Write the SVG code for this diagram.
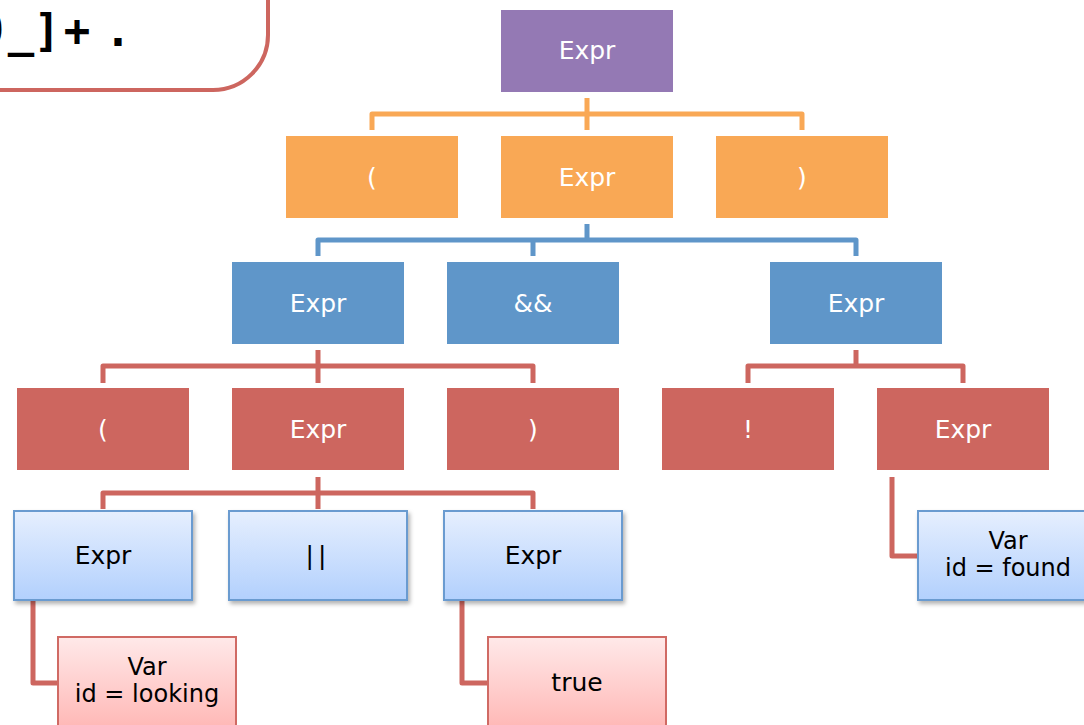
<svg xmlns="http://www.w3.org/2000/svg" width="1084" height="725" viewBox="0 0 1084 725">
<defs>
<linearGradient id="gb" x1="0" y1="0" x2="0" y2="1"><stop offset="0" stop-color="#e6effe"/><stop offset="1" stop-color="#b2d0fd"/></linearGradient>
<linearGradient id="gp" x1="0" y1="0" x2="0" y2="1"><stop offset="0" stop-color="#ffe9e9"/><stop offset="1" stop-color="#ffb3b1"/></linearGradient>
<filter id="sh" x="-10%" y="-10%" width="130%" height="130%"><feDropShadow dx="2" dy="3" stdDeviation="2" flood-color="#000" flood-opacity="0.3"/></filter>
</defs>
<style>
text{font-family:"DejaVu Sans",Verdana,sans-serif;font-size:25px;text-anchor:middle}
.w{fill:#fff}.k{fill:#000}
.pu{fill:#9479b4}.or{fill:#f9a855}.bl{fill:#5f96c9}.rd{fill:#cd665f}
.lb{fill:url(#gb);stroke:#6a9bd0;stroke-width:2;filter:url(#sh)}
.pk{fill:url(#gp);stroke:#d06a64;stroke-width:2}
.c{fill:none;stroke-width:5;stroke-linejoin:round}
.co{stroke:#f9a855}.cb{stroke:#5f96c9}.cr{stroke:#cd665f}
.mono{font-family:"DejaVu Sans Mono","Liberation Mono",monospace;font-weight:bold;font-size:44px}
.two{font-size:24px}
</style>
<rect x="-100" y="-100" width="368" height="190" rx="55" fill="#fff" stroke="#cd665f" stroke-width="4"/>
<text class="mono k" x="-9 21 47 77 118" y="46">9_]+.</text>
<g id="connectors">
<path class="c co" d="M372,130V114H802V130M587,98V130"/>
<path class="c cb" d="M318,256V240H856V256M533,240V256M587,224V240"/>
<path class="c cr" d="M103,383V366H533V383M318,350V383"/>
<path class="c cr" d="M748,383V366H963V383M856,350V366"/>
<path class="c cr" d="M103,509V493H533V509M318,477V509"/>
<path class="c cr" d="M892,477V556H918"/>
<path class="c cr" d="M33,600V683H58"/>
<path class="c cr" d="M462,600V683H488"/>
</g>
<g id="n1"><rect class="pu" x="501" y="10" width="172" height="82"/><text class="w" x="587" y="59">Expr</text></g>
<g id="n2"><rect class="or" x="286" y="136" width="172" height="82"/><text class="w" x="372" y="186">(</text></g>
<g id="n3"><rect class="or" x="501" y="136" width="172" height="82"/><text class="w" x="587" y="186">Expr</text></g>
<g id="n4"><rect class="or" x="716" y="136" width="172" height="82"/><text class="w" x="802" y="186">)</text></g>
<g id="n5"><rect class="bl" x="232" y="262" width="172" height="82"/><text class="w" x="318" y="312">Expr</text></g>
<g id="n6"><rect class="bl" x="447" y="262" width="172" height="82"/><text class="w" x="533" y="312">&amp;&amp;</text></g>
<g id="n7"><rect class="bl" x="770" y="262" width="172" height="82"/><text class="w" x="856" y="312">Expr</text></g>
<g id="n8"><rect class="rd" x="17" y="388" width="172" height="82"/><text class="w" x="103" y="438">(</text></g>
<g id="n9"><rect class="rd" x="232" y="388" width="172" height="82"/><text class="w" x="318" y="438">Expr</text></g>
<g id="n10"><rect class="rd" x="447" y="388" width="172" height="82"/><text class="w" x="533" y="438">)</text></g>
<g id="n11"><rect class="rd" x="662" y="388" width="172" height="82"/><text class="w" x="748" y="438">!</text></g>
<g id="n12"><rect class="rd" x="877" y="388" width="172" height="82"/><text class="w" x="963" y="438">Expr</text></g>
<g id="n13"><rect class="lb" x="14" y="511" width="178" height="89"/><text class="k" x="103" y="564">Expr</text></g>
<g id="n14"><rect class="lb" x="229" y="511" width="178" height="89"/><text class="k" x="318" y="564" letter-spacing="4">||</text></g>
<g id="n15"><rect class="lb" x="444" y="511" width="178" height="89"/><text class="k" x="533" y="564">Expr</text></g>
<g id="n16"><rect class="lb" x="918" y="511" width="178" height="89"/><text class="k two" x="1008" y="549">Var</text><text class="k two" x="1008" y="576">id = found</text></g>
<g id="n17"><rect class="pk" x="58" y="637" width="178" height="100"/><text class="k two" x="147" y="675">Var</text><text class="k two" x="147" y="702">id = looking</text></g>
<g id="n18"><rect class="pk" x="488" y="637" width="178" height="100"/><text class="k" x="577" y="691">true</text></g>
</svg>
